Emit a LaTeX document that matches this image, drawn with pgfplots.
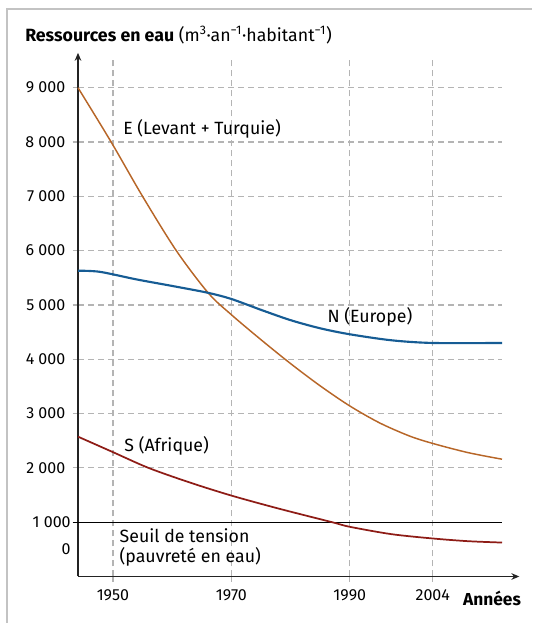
\documentclass[border=0pt]{standalone}
\usepackage{fontspec}
\setmainfont{Fira Sans}
\usepackage{pgfplots}
\pgfplotsset{compat=1.18}
\usetikzlibrary{arrows.meta}
\definecolor{cE}{RGB}{183,102,40}
\definecolor{cN}{RGB}{22,92,148}
\definecolor{cS}{RGB}{142,28,22}
\definecolor{gridc}{RGB}{180,180,180}
\definecolor{framec}{RGB}{195,195,195}
\definecolor{axc}{RGB}{35,35,35}
\newcommand{\fs}{\fontsize{13.3}{15}\selectfont}
\newcommand{\ft}{\fontsize{12}{14}\selectfont}
\begin{document}
\begin{tikzpicture}
\useasboundingbox (0pt,0pt) rectangle (399pt,467.25pt);
\draw[framec, line width=1.5pt] (5.25pt,0pt) -- (5.25pt,460.5pt) -- (399pt,460.5pt);
\node[anchor=base west, font=\fs, inner sep=0] at (18.75pt,436.2pt) {\textbf{Ressources en eau} (m\textsuperscript{3}·an\textsuperscript{−1}·habitant\textsuperscript{−1})};
\begin{axis}[
  at={(58.5pt,34.875pt)}, anchor=south west,
  scale only axis, width=318pt, height=387.75pt,
  xmin=1944.1, xmax=2015.7, ymin=0, ymax=9520,
  clip=false,
  axis lines=left,
  axis line style={axc, line width=0.9pt},
  x axis line style={-{Stealth[length=6pt,width=5pt]}, shorten >=-13pt},
  y axis line style={-{Stealth[length=6pt,width=5pt]}, shorten >=-5pt},
  xtick={1950,1970,1990,2004},
  xticklabels={1950,1970,1990,2004},
  ytick={2000,3000,4000,5000,6000,7000,8000,9000},
  yticklabels={2 000,3 000,4 000,5 000,6 000,7 000,8 000,9 000},
  extra y ticks={500,1000},
  extra y tick labels={0,1 000},
  extra y tick style={ymajorgrids=false, major tick length=0pt},
  tick align=outside,
  major tick length=4pt,
  tick style={gridc, line width=0.9pt, dash pattern=on 4pt off 3pt},
  xmajorgrids, ymajorgrids,
  grid style={gridc, line width=0.9pt, dash pattern=on 4.5pt off 3pt},
  ticklabel style={font=\ft, text=black},
  yticklabel style={xshift=-2pt},
  xticklabel style={yshift=-2pt},
]
\addplot[black, line width=0.9pt] coordinates {(1943.2,1000) (2015.7,1000)};
\addplot[cE, line width=1.1pt, smooth] coordinates {
(1944.1,9000) (1949.7,8000) (1955,7000) (1960.7,6000) (1966.1,5220) (1970,4820) (1975,4360) (1980,3920) (1985,3510) (1990,3140) (1995,2830) (2000,2590) (2004,2450) (2010,2280) (2015.7,2160)};
\addplot[cN, line width=1.6pt, smooth] coordinates {
(1944.1,5630) (1947.8,5610) (1954,5470) (1960,5350) (1966,5225) (1970,5110) (1975,4910) (1980,4720) (1985,4570) (1990,4460) (1997,4350) (2004,4300) (2015.7,4300)};
\addplot[cS, line width=1.3pt, smooth] coordinates {
(1944.1,2575) (1950,2290) (1956,2000) (1963,1730) (1970,1490) (1978,1250) (1987,1000) (1990,915) (1997,780) (2004,700) (2010,650) (2015.7,625)};
\node[anchor=west, font=\fs, inner sep=0] at (axis cs:1951.7,8245) {E (Levant + Turquie)};
\node[anchor=west, font=\fs, inner sep=0] at (axis cs:1986.2,4777) {N (Europe)};
\node[anchor=west, font=\fs, inner sep=0] at (axis cs:1951.9,2402) {S (Afrique)};
\node[anchor=west, font=\fs, inner sep=0, align=left] at (axis cs:1951.1,539) {Seuil de tension\\(pauvreté en eau)};
\node[anchor=west, font=\fontsize{13}{15}\selectfont\bfseries, inner sep=0] at (axis cs:2009.1,-396) {Années};
\end{axis}
\end{tikzpicture}
\end{document}
